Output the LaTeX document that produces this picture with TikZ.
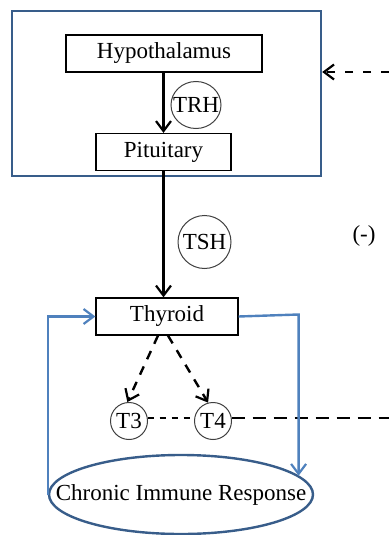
\documentclass[tikz,border=0pt]{standalone}
\usepackage{fontspec}
\setmainfont{Liberation Serif}
\usetikzlibrary{shapes.geometric,arrows.meta,calc}
\definecolor{boxblue}{RGB}{56,93,138}
\definecolor{lineblue}{RGB}{79,129,189}
\begin{document}
\begin{tikzpicture}[x=0.5pt,y=-0.5pt,
  font=\fontsize{11.5}{13}\selectfont,
  organ/.style={draw=black,line width=0.6pt,rectangle,inner sep=0pt,minimum height=18.5pt},
  hormone/.style={draw=black!75,line width=0.5pt,inner sep=0pt},
  blk/.style={line width=1.2pt,-{Straight Barb[length=5pt,width=7.5pt,line width=1.1pt]}},
  blu/.style={draw=lineblue,line width=1.2pt,-{Straight Barb[length=5pt,width=7.5pt,line width=1.1pt]}}]
\useasboundingbox (0,0) rectangle (389,535);
\node[draw=boxblue,line width=1.2pt,rectangle,minimum width=154.5pt,minimum height=82.5pt,inner sep=0pt] (box) at (166.5,93.5) {};
\node[organ,minimum width=98pt] (hyp) at (164,53.5) {Hypothalamus};
\node[organ,minimum width=67.5pt] (pit) at (163.5,152) {Pituitary};
\node[organ,minimum width=71pt] (thy) at (167,316.5) {Thyroid};
\node[hormone,ellipse,minimum width=25pt,minimum height=23.5pt,label=center:TRH] (trh) at (196,105) {};
\node[hormone,circle,minimum size=26.5pt] (tsh) at (204.5,242) {TSH};
\node (minus) at (364,236) {(-)};
\node[hormone,circle,minimum size=18.5pt] (t3) at (129,421) {T3};
\node[hormone,circle,minimum size=18.5pt] (t4) at (213,421) {T4};
\node[draw=boxblue,line width=1.2pt,ellipse,minimum width=132pt,minimum height=39.5pt,inner sep=0pt,label=center:{Chronic Immune Response}] (cir) at (181,494.5) {};
\coordinate (fbR) at (389,72);
\coordinate (tl) at ($(thy.south)+(-9,0)$);
\coordinate (tr) at ($(thy.south)+(1,0)$);
\coordinate (rc) at ($(thy.east)+(60,-2)$);
% connectors
\draw[blk] (hyp.south -| pit.north) -- (pit.north);
\draw[blk] (pit.south) -- (pit.south |- thy.north);
\draw[blk,dash pattern=on 4pt off 5pt] (fbR) -- (box.east |- fbR);
\draw[blk,dash pattern=on 4.5pt off 4pt] (tl) -- (t3.95);
\draw[blk,dash pattern=on 4.5pt off 4pt] (tr) -- (t4.105);
\draw[line width=1.2pt,dash pattern=on 3pt off 3pt] (t3.10) -- (t4.170);
\draw[line width=1.2pt,dash pattern=on 6.5pt off 4pt] (t4.10) -- (t4.10 -| fbR);
\draw[blu] (cir.west) |- (thy.west);
\draw[blu] (thy.east) -- (rc) -- (rc |- cir.9);
\end{tikzpicture}
\end{document}
